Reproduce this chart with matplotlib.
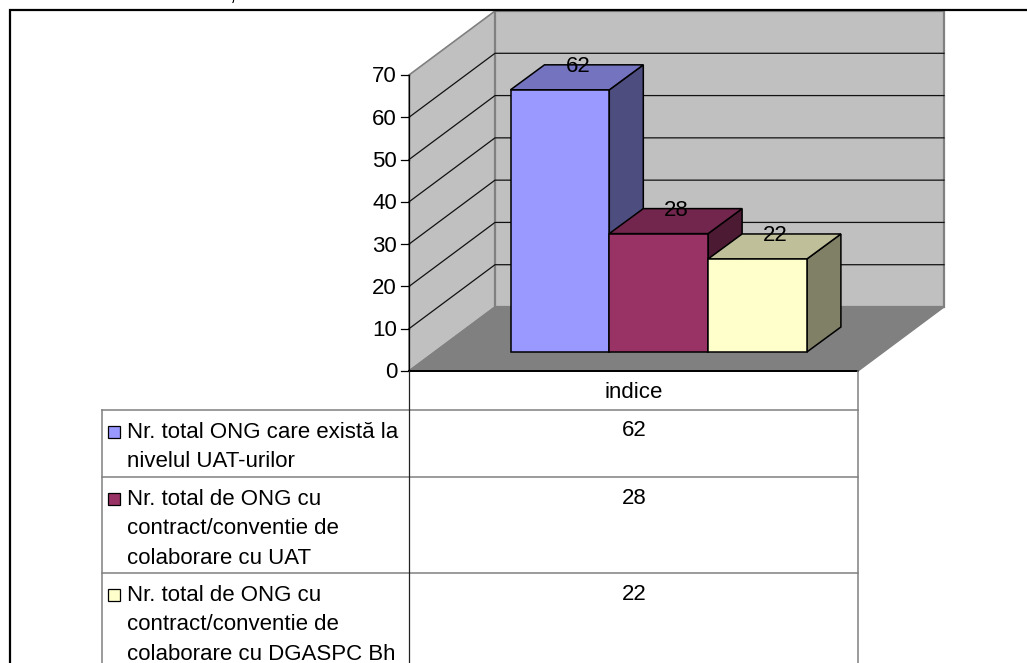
import matplotlib
matplotlib.use("Agg")
import matplotlib.pyplot as plt
from matplotlib.patches import Polygon, Rectangle

plt.rcParams['font.family'] = ['Liberation Sans', 'DejaVu Sans']

# date
categorie = "indice"
valori = [62, 28, 22]
legenda = [
    "Nr. total ONG care există la\nnivelul UAT-urilor",
    "Nr. total de ONG cu\ncontract/conventie de\ncolaborare cu UAT",
    "Nr. total de ONG cu\ncontract/conventie de\ncolaborare cu DGASPC Bh",
]
culori = ["#9999FF", "#993366", "#FFFFCC"]
culori_sus = ["#7373BF", "#73264D", "#BFBF99"]
culori_lat = ["#4D4D80", "#4D1A33", "#808066"]
ticks = [0, 10, 20, 30, 40, 50, 60, 70]

# geometrie in pixeli
X0, X1 = 409, 858
Y0 = 371
SCARA = 296 / 70
DX, DY = 86, -64
BX, BY = 34, -25
BAR_X = 510.5
BAR_W = 98.8
BAR_Y = 352
FONT = 16

fig = plt.figure(figsize=(10.27, 6.63), dpi=100)
ax = fig.add_axes([0, 0, 1, 1])
ax.set_xlim(0, 1027)
ax.set_ylim(663, 0)
ax.axis('off')


def y_val(v):
    return Y0 - v * SCARA


def poligon(pct, fc, ec="none", lw=1.0, z=1):
    ax.add_patch(Polygon(pct, closed=True, fc=fc, ec=ec, lw=lw, zorder=z))


# rest din textul taiat de deasupra cadrului
ax.text(233, 0, ",", ha="center", va="baseline", fontsize=FONT, color="black")

# cadrul exterior
ax.plot([10, 10, 1027], [663, 10, 10], color="black", lw=1.6, zorder=8, solid_joinstyle="miter")

# peretii si podeaua
y70 = y_val(70)
poligon([(X0, Y0), (X0 + DX, Y0 + DY), (X0 + DX, y70 + DY), (X0, y70)], "#C0C0C0", "#808080", 1.2)
poligon([(X0 + DX, Y0 + DY), (X1 + DX, Y0 + DY), (X1 + DX, y70 + DY), (X0 + DX, y70 + DY)], "#C0C0C0", "#808080", 1.6)
poligon([(X0, Y0), (X1, Y0), (X1 + DX, Y0 + DY), (X0 + DX, Y0 + DY)], "#808080", "#808080", 1.0)

# linii de grila si axa
for t in ticks:
    y = y_val(t)
    if 0 < t < 70:
        ax.plot([X0, X0 + DX, X1 + DX], [y, y + DY, y + DY], color="#111111", lw=0.9, zorder=2)
    ax.plot([X0 - 8, X0], [y, y], color="black", lw=0.9, zorder=3)
    ax.text(X0 - 12, y + 2, str(t), ha="right", va="center", fontsize=FONT, color="black", zorder=6)
ax.plot([X0, X0], [y70, Y0], color="black", lw=0.9, zorder=3)
ax.plot([X0, X1], [Y0, Y0], color="black", lw=1.4, zorder=3)

# barele 3D
for i, v in enumerate(valori):
    x = BAR_X + i * BAR_W
    top = BAR_Y - v * SCARA
    poligon([(x + BAR_W, BAR_Y), (x + BAR_W + BX, BAR_Y + BY), (x + BAR_W + BX, top + BY), (x + BAR_W, top)],
            culori_lat[i], "black", 1.1, 4)
    poligon([(x, top), (x + BX, top + BY), (x + BAR_W + BX, top + BY), (x + BAR_W, top)],
            culori_sus[i], "black", 1.1, 4)
    ax.add_patch(Rectangle((x, top), BAR_W, v * SCARA, fc=culori[i], ec="black", lw=1.1, zorder=4))
    ax.text(x + (BAR_W + BX) / 2 + 1, top + BY / 2 - 11, str(v), ha="center", va="center",
            fontsize=FONT, color="black", zorder=7)

# tabelul de date
RAND = [371, 410, 477, 573, 663]
TX = 102
for y in RAND[1:-1]:
    ax.plot([TX, X1], [y, y], color="#808080", lw=1.1, zorder=3)
ax.plot([TX, TX], [RAND[1], 663], color="#808080", lw=1.1, zorder=3)
ax.plot([X0, X0], [Y0, 663], color="#222222", lw=0.9, zorder=3)
ax.plot([X1, X1], [Y0, 663], color="#808080", lw=1.1, zorder=3)
ax.text((X0 + X1) / 2, 393, categorie, ha="center", va="center", fontsize=FONT, color="black")

for i, v in enumerate(valori):
    sus = RAND[i + 1]
    ax.add_patch(Rectangle((TX + 6, sus + 16), 12, 12, fc=culori[i], ec="black", lw=0.9, zorder=5))
    ax.text(TX + 25, sus + 12, legenda[i], ha="left", va="top", fontsize=FONT, color="black",
            linespacing=1.53, zorder=6)
    ax.text((X0 + X1) / 2 + 1, sus + 21, str(v), ha="center", va="center", fontsize=FONT, color="black", zorder=6)

fig.savefig("out.png", dpi=100)
